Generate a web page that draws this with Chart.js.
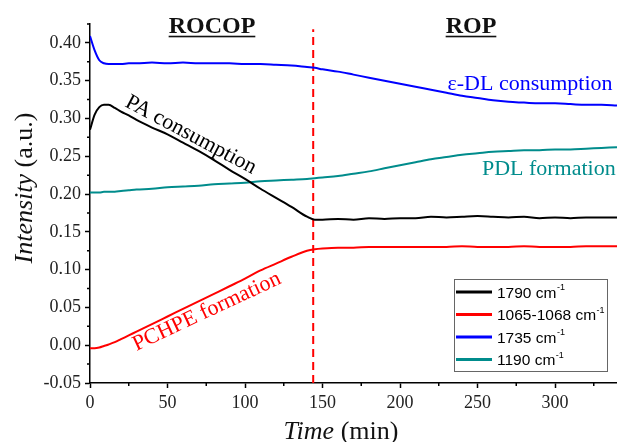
<!DOCTYPE html>
<html>
<head>
<meta charset="utf-8">
<script src="https://cdn.jsdelivr.net/npm/chart.js@4"></script>
<style>
  body { margin: 0; background: #fff; }
  canvas { display: block; }
</style>
</head>
<body>
<canvas id="kinetics" width="617" height="442"></canvas>
<script>
// Time axis (min), shared by all four bands
const times = [0, 3, 6, 9, 12, 16, 20, 25, 30, 40, 50, 60, 70, 80, 90, 100, 110, 120, 130, 140, 145,
  150, 160, 170, 180, 190, 200, 210, 220, 230, 240, 250, 260, 270, 280, 290, 300, 310, 320, 330, 340];

// 1790 cm-1 (PA)
const band1790 = [0.285, 0.305, 0.315, 0.318, 0.318, 0.314, 0.309, 0.304, 0.298, 0.288, 0.279, 0.268, 0.257,
  0.245, 0.232, 0.220, 0.207, 0.195, 0.183, 0.170, 0.166,
  0.166, 0.167, 0.166, 0.168, 0.167, 0.168, 0.168, 0.170, 0.169, 0.170, 0.171, 0.170, 0.169, 0.170, 0.168,
  0.169, 0.168, 0.169, 0.169, 0.169];
// 1065-1068 cm-1 (PCHPE)
const band1065 = [-0.004, -0.004, -0.003, -0.001, 0.001, 0.004, 0.008, 0.013, 0.018, 0.028, 0.038, 0.048, 0.058,
  0.068, 0.078, 0.088, 0.099, 0.108, 0.117, 0.125, 0.127,
  0.128, 0.129, 0.129, 0.130, 0.130, 0.130, 0.130, 0.130, 0.130, 0.131, 0.130, 0.130, 0.130, 0.131, 0.130,
  0.130, 0.130, 0.131, 0.131, 0.131];
// 1735 cm-1 (e-DL)
const band1735 = [0.409, 0.390, 0.377, 0.373, 0.372, 0.372, 0.372, 0.373, 0.373, 0.374, 0.373, 0.374, 0.373,
  0.373, 0.373, 0.372, 0.372, 0.371, 0.370, 0.368, 0.367,
  0.365, 0.362, 0.358, 0.354, 0.350, 0.346, 0.342, 0.338, 0.334, 0.330, 0.327, 0.324, 0.322, 0.321, 0.320,
  0.320, 0.319, 0.318, 0.318, 0.317];
// 1190 cm-1 (PDL)
const band1190 = [0.202, 0.202, 0.202, 0.203, 0.203, 0.203, 0.204, 0.205, 0.206, 0.207, 0.209, 0.210, 0.211,
  0.213, 0.214, 0.215, 0.217, 0.218, 0.219, 0.220, 0.221,
  0.222, 0.224, 0.227, 0.230, 0.234, 0.238, 0.242, 0.246, 0.249, 0.252, 0.254, 0.256, 0.257, 0.258, 0.258,
  0.259, 0.259, 0.260, 0.261, 0.262];

const seriesLabels = ['1790', '1065-1068', '1735', '1190'];
const seriesColors = ['#000000', '#ff0000', '#0000ff', '#008c8c'];
const switchTime = 144; // ROCOP -> ROP

const xTicks = [0, 50, 100, 150, 200, 250, 300];
const xMinor = [25, 75, 125, 175, 225, 275, 325];
const yTicks = [-0.05, 0, 0.05, 0.10, 0.15, 0.20, 0.25, 0.30, 0.35, 0.40];
const yMinor = [-0.025, 0.025, 0.075, 0.125, 0.175, 0.225, 0.275, 0.325, 0.375, 0.425];

const serif = '"Liberation Serif", "Times New Roman", serif';
const sans = '"Liberation Sans", Arial, sans-serif';

function pts(ys) {
  return times.map((t, i) => ({ x: t, y: ys[i] }));
}

const datasets = [band1790, band1065, band1735, band1190].map((ys, i) => ({
  label: seriesLabels[i] + ' cm-1',
  data: pts(ys),
  borderColor: seriesColors[i],
  borderWidth: 2,
  pointRadius: 0,
  cubicInterpolationMode: 'monotone'
}));
datasets.push({
  label: 'switch',
  data: [{ x: switchTime, y: -0.05 }, { x: switchTime, y: 0.418 }],
  borderColor: '#ff0000',
  borderWidth: 2,
  borderDash: [8, 5],
  pointRadius: 0
});

// minor ticks, axis titles, annotations and the boxed legend
const decorations = {
  id: 'decorations',
  afterDraw(chart) {
    const { ctx, chartArea, scales: { x, y } } = chart;
    ctx.save();
    ctx.strokeStyle = '#000';
    ctx.lineWidth = 1.5;
    ctx.beginPath();
    xMinor.forEach(v => {
      const px = x.getPixelForValue(v);
      ctx.moveTo(px, chartArea.bottom);
      ctx.lineTo(px, chartArea.bottom + 3);
    });
    yMinor.forEach(v => {
      const py = y.getPixelForValue(v);
      ctx.moveTo(chartArea.left, py);
      ctx.lineTo(chartArea.left - 3, py);
    });
    ctx.stroke();

    // axis titles with italic quantity
    function mixed(parts, cx, cy) {
      let total = 0;
      parts.forEach(p => { ctx.font = p.font; total += ctx.measureText(p.text).width; });
      let cur = cx - total / 2;
      parts.forEach(p => {
        ctx.font = p.font;
        ctx.fillText(p.text, cur, cy);
        cur += ctx.measureText(p.text).width;
      });
    }
    ctx.fillStyle = '#111';
    ctx.textAlign = 'left';
    ctx.textBaseline = 'alphabetic';
    mixed([{ text: 'Time', font: 'italic 26px ' + serif }, { text: ' (min)', font: '26px ' + serif }], 341, 439);
    ctx.save();
    ctx.translate(32, 188);
    ctx.rotate(-Math.PI / 2);
    mixed([{ text: 'Intensity', font: 'italic 26px ' + serif }, { text: ' (a.u.)', font: '26px ' + serif }], 0, 0);
    ctx.restore();

    // regime headers
    ctx.font = 'bold 24px ' + serif;
    ctx.textAlign = 'center';
    [['ROCOP', 78.7], ['ROP', 245.8]].forEach(([txt, t]) => {
      const cx = x.getPixelForValue(t);
      const by = y.getPixelForValue(0.4128);
      ctx.fillText(txt, cx, by);
      const w = ctx.measureText(txt).width;
      ctx.fillRect(cx - w / 2, by + 2.5, w, 1.6);
    });

    // curve annotations
    function note(txt, color, t, v, angle, align) {
      ctx.save();
      ctx.translate(x.getPixelForValue(t), y.getPixelForValue(v));
      ctx.rotate(angle * Math.PI / 180);
      ctx.font = '22px ' + serif;
      ctx.fillStyle = color;
      ctx.textAlign = align;
      ctx.fillText(txt, 0, 0);
      ctx.restore();
    }
    note('PA consumption', '#000', 21.9, 0.3165, 28, 'left');
    note('PCHPE formation', '#ff0000', 30, -0.0075, -25, 'left');
    note('\u03b5-DL consumption', '#0000ff', 283.9, 0.3376, 0, 'center');
    note('PDL formation', '#008c8c', 296, 0.2253, 0, 'center');

    // legend box
    const bx = 454, bw = 153, by0 = 279, bh = 92;
    ctx.fillStyle = '#fff';
    ctx.fillRect(bx, by0, bw, bh);
    ctx.strokeStyle = '#666';
    ctx.lineWidth = 1;
    ctx.strokeRect(bx + 0.5, by0 + 0.5, bw, bh);
    seriesLabels.forEach((lab, i) => {
      const ry = 292 + i * 22.5;
      ctx.strokeStyle = seriesColors[i];
      ctx.lineWidth = 3;
      ctx.beginPath();
      ctx.moveTo(456, ry);
      ctx.lineTo(492, ry);
      ctx.stroke();
      ctx.fillStyle = '#000';
      ctx.textAlign = 'left';
      ctx.font = '15.5px ' + sans;
      const base = lab + ' cm';
      ctx.fillText(base, 497, ry + 5.5);
      const w = ctx.measureText(base).width;
      ctx.font = '9px ' + sans;
      ctx.fillText('-1', 497 + w + 0.5, ry - 2);
    });
    ctx.restore();
  }
};

new Chart(document.getElementById('kinetics'), {
  type: 'line',
  data: { datasets },
  plugins: [decorations],
  options: {
    responsive: false,
    animation: false,
    layout: { padding: { top: 24, right: 0, left: 0, bottom: 0 } },
    plugins: {
      legend: { display: false },
      tooltip: { enabled: false }
    },
    scales: {
      x: {
        type: 'linear',
        min: 0,
        max: 340,
        afterBuildTicks: s => { s.ticks = xTicks.map(v => ({ value: v })); },
        afterFit: s => { s.height = 59; },
        border: { display: true, color: '#000', width: 1.5 },
        grid: { drawOnChartArea: false, drawTicks: true, tickLength: 5, tickColor: '#000', tickWidth: 1.5 },
        ticks: {
          padding: 4,
          color: '#222',
          font: { family: serif, size: 18 },
          maxRotation: 0
        }
      },
      y: {
        min: -0.05,
        max: 0.425,
        afterBuildTicks: s => { s.ticks = yTicks.map(v => ({ value: v })); },
        afterFit: s => { s.width = 90; },
        border: { display: true, color: '#000', width: 1.5 },
        grid: { drawOnChartArea: false, drawTicks: true, tickLength: 5, tickColor: '#000', tickWidth: 1.5 },
        ticks: {
          padding: 4,
          color: '#222',
          font: { family: serif, size: 18 },
          callback: v => v.toFixed(2)
        }
      }
    }
  }
});
</script>
</body>
</html>
